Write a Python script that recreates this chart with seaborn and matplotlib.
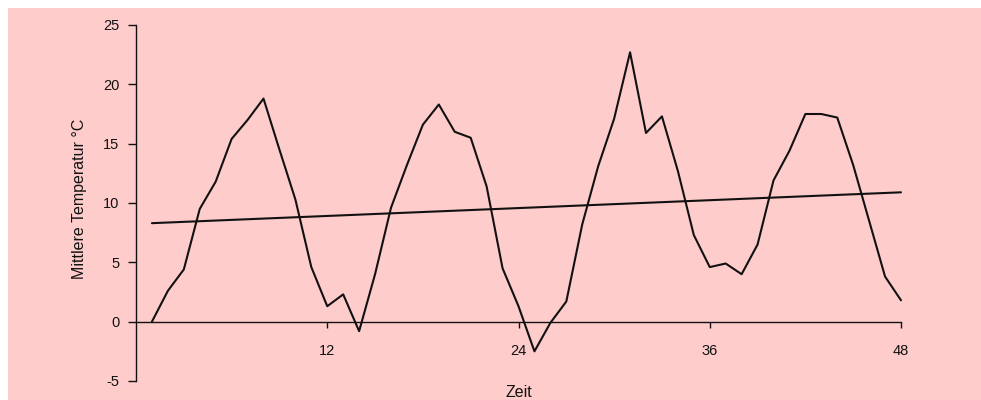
import matplotlib
matplotlib.use("Agg")
import matplotlib.pyplot as plt
from matplotlib.patches import Rectangle
import seaborn as sns
import pandas as pd

# Monthly mean temperatures over four years (month index 1..48)
months = list(range(1, 49))
temperature = [
    0.0, 2.6, 4.4, 9.5, 11.8, 15.4, 17.0, 18.8, 14.5, 10.3, 4.6, 1.3,
    2.3, -0.8, 4.0, 9.6, 13.2, 16.6, 18.3, 16.0, 15.5, 11.4, 4.5, 1.3,
    -2.5, -0.1, 1.7, 8.2, 13.1, 17.1, 22.7, 15.9, 17.3, 12.7, 7.3, 4.6,
    4.9, 4.0, 6.5, 11.9, 14.4, 17.5, 17.5, 17.2, 13.2, 8.5, 3.8, 1.8,
]

# Linear trend, start and end values
trend_months = [1, 48]
trend_values = [8.3, 10.9]

x_ticks = [12, 24, 36, 48]
y_ticks = [-5, 0, 5, 10, 15, 20, 25]

sns.set_theme(style="white")
plt.rcParams["font.family"] = ["Liberation Sans", "DejaVu Sans"]
plt.rcParams["font.size"] = 10.5

BG = "#FFCCCC"
INK = "#111111"

fig = plt.figure(figsize=(9.81, 4.0), dpi=100, facecolor="white")
fig.patches.append(Rectangle((8 / 981, 0), 1 - 8 / 981, 392 / 400,
                             transform=fig.transFigure, facecolor=BG,
                             edgecolor="none", zorder=-10))

ax = fig.add_axes([136 / 981, 1 - 381 / 400, (901 - 136) / 981, (381 - 25) / 400])
ax.set_zorder(5)
ax.set_facecolor("none")

df = pd.DataFrame({"Zeit": months, "Temperatur": temperature})
trend = pd.DataFrame({"Zeit": trend_months, "Temperatur": trend_values})

sns.lineplot(data=df, x="Zeit", y="Temperatur", ax=ax, color=INK,
             linewidth=1.5, clip_on=False)
sns.lineplot(data=trend, x="Zeit", y="Temperatur", ax=ax, color=INK,
             linewidth=1.5, clip_on=False)

ax.set_xlim(0, 48)
ax.set_ylim(-5, 25)
ax.set_xticks(x_ticks)
ax.set_xticklabels([str(t) for t in x_ticks])
ax.set_yticks(y_ticks)
ax.set_yticklabels([str(t) for t in y_ticks])

for side in ("top", "right"):
    ax.spines[side].set_visible(False)
ax.spines["bottom"].set_position(("data", 0))
for side in ("left", "bottom"):
    ax.spines[side].set_color(INK)
    ax.spines[side].set_linewidth(1.0)

ax.tick_params(axis="x", direction="out", length=4.5, width=1.0, color=INK,
               pad=11.5, labelsize=10.5, labelcolor=INK, bottom=True)
ax.tick_params(axis="y", direction="out", length=5.5, width=1.0, color=INK,
               pad=6.5, labelsize=10.5, labelcolor=INK, left=True)

ax.set_xlabel("Zeit", fontsize=11.5, color=INK)
ax.set_ylabel("Mittlere Temperatur °C", fontsize=11.5, color=INK)
ax.xaxis.set_label_coords(0.5, -0.012)
ax.yaxis.set_label_coords(-0.064, 0.513)
ax.grid(False)

fig.savefig("out.png", dpi=100, facecolor=fig.get_facecolor())
